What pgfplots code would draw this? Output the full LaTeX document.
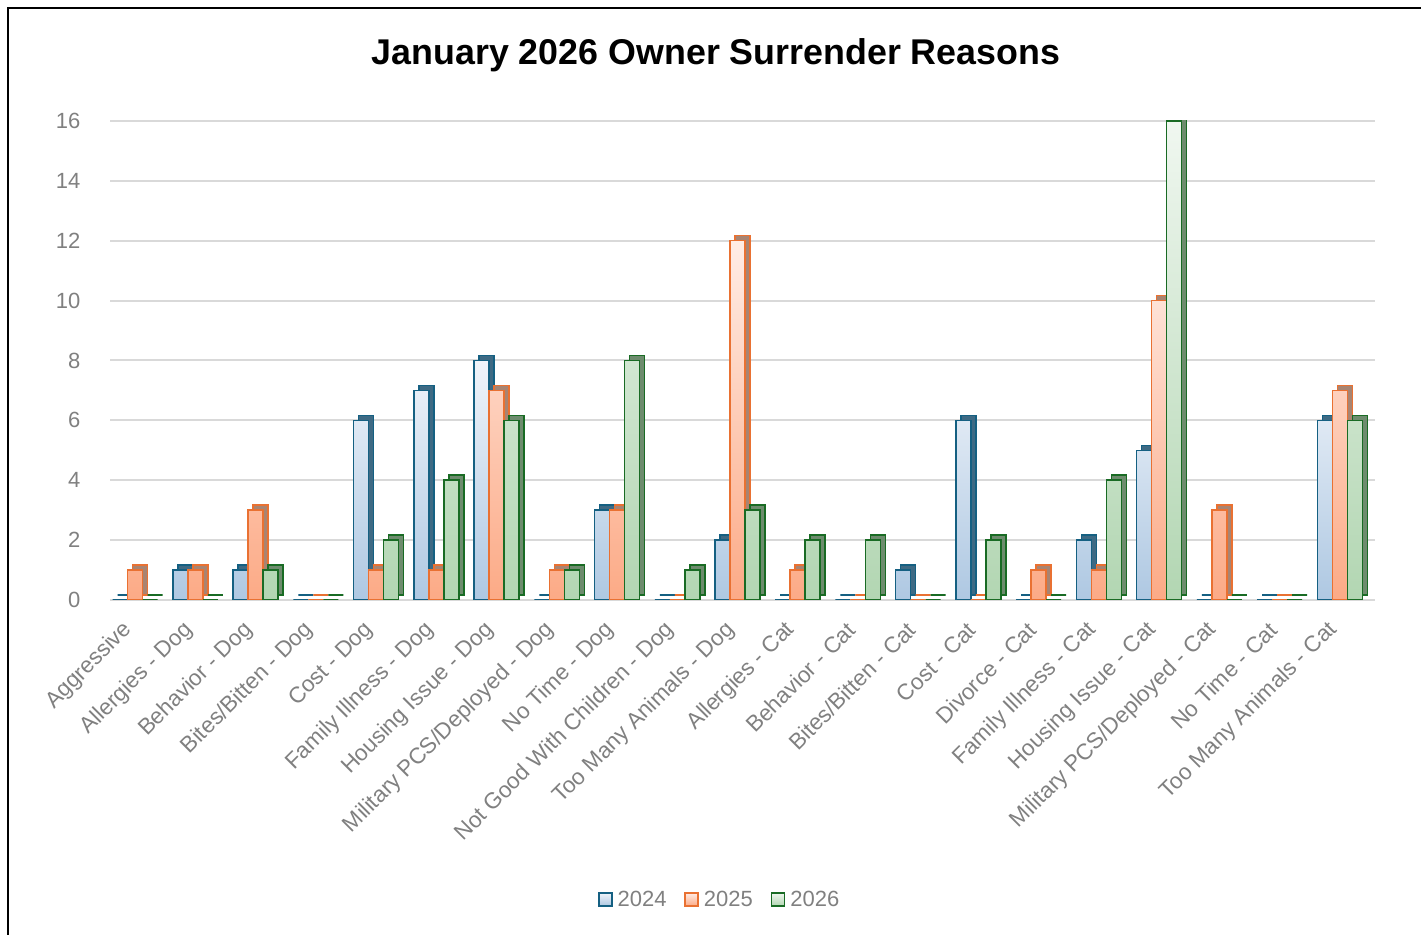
\documentclass[border=0pt]{standalone}
\usepackage{pgfplots}
\pgfplotsset{compat=1.18}
\usepackage{pgfplotstable}
\usepackage{fontspec}
\setmainfont{Liberation Sans}

\definecolor{c24}{HTML}{156082}
\definecolor{c25}{HTML}{E97132}
\definecolor{c26}{HTML}{196B24}
\definecolor{c24top}{HTML}{F0F4FA}
\definecolor{c24bot}{HTML}{AEC8E2}
\definecolor{c25top}{HTML}{FFEDE6}
\definecolor{c25bot}{HTML}{FCAA86}
\definecolor{c26top}{HTML}{F0F7F0}
\definecolor{c26bot}{HTML}{B2D6B2}
\definecolor{s24}{HTML}{3E6A84}
\definecolor{s25}{HTML}{A88472}
\definecolor{s26}{HTML}{6E8C6E}
\definecolor{txtgray}{HTML}{808080}
\definecolor{gridgray}{HTML}{D9D9D9}

% idx: category index, one column per year
\pgfplotstableread{
idx y24 y25 y26
0  0 1 0
1  1 1 0
2  1 3 1
3  0 0 0
4  6 1 2
5  7 1 4
6  8 7 6
7  0 1 1
8  3 3 8
9  0 0 1
10 2 12 3
11 0 1 2
12 0 0 2
13 1 0 0
14 6 0 2
15 0 1 0
16 2 1 4
17 5 10 16
18 0 3 0
19 0 0 0
20 6 7 6
}\surrender

\begin{document}
\begin{tikzpicture}[x=1pt,y=1pt]
\path[use as bounding box] (0,0) rectangle (1421,934);
\draw[line width=2pt] (8,-2) -- (8,926) -- (1425,926);
\node[font=\bfseries\fontsize{35.8}{40}\selectfont] at (716,879) {January 2026 Owner Surrender Reasons};
\begin{axis}[
  at={(110pt,334pt)}, anchor=south west,
  width=1265pt, height=479pt, scale only axis,
  xmin=-0.5, xmax=20.5, ymin=0, ymax=16,
  ybar, bar width=15pt,
  axis line style={draw=none},
  major tick length=0pt,
  ytick={0,2,...,16},
  ymajorgrids, grid style={line width=2pt, gridgray},
  xtick={0,...,20},
  xticklabels={Aggressive, Allergies - Dog, Behavior - Dog, Bites/Bitten - Dog, Cost - Dog,
    Family Illness - Dog, Housing Issue - Dog, Military PCS/Deployed - Dog, No Time - Dog,
    Not Good With Children - Dog, Too Many Animals - Dog, Allergies - Cat, Behavior - Cat,
    Bites/Bitten - Cat, Cost - Cat, Divorce - Cat, Family Illness - Cat, Housing Issue - Cat,
    Military PCS/Deployed - Cat, No Time - Cat, Too Many Animals - Cat},
  x tick label style={xshift=-9pt, yshift=-24pt, rotate=45, anchor=east,
    font=\fontsize{22.5}{26}\selectfont, text=txtgray},
  y tick label style={font=\fontsize{22}{26}\selectfont, text=txtgray, xshift=-26pt},
  /pgf/number format/assume math mode=true,
  legend columns=3,
  legend style={at={(0.482,-0.626)}, anchor=center, draw=none, fill=none,
    font=\fontsize{22}{26}\selectfont, text=txtgray,
    /tikz/every odd column/.append style={column sep=3pt},
    /tikz/every even column/.append style={column sep=16pt}},
  legend image code/.code={\draw[#1, line width=1.5pt] (0pt,-6pt) rectangle (13pt,7pt);},
]
% depth (side and top faces)
\addplot[forget plot, bar shift=-20pt, xshift=5pt, yshift=5pt, fill=s24, draw=c24, line width=1.5pt] table[x=idx,y=y24] {\surrender};
\addplot[forget plot, bar shift=-5pt, xshift=5pt, yshift=5pt, fill=s25, draw=c25, line width=1.5pt] table[x=idx,y=y25] {\surrender};
\addplot[forget plot, bar shift=10pt, xshift=5pt, yshift=5pt, fill=s26, draw=c26, line width=1.5pt] table[x=idx,y=y26] {\surrender};
% front faces
\addplot[bar shift=-20pt, draw=c24, top color=c24top, bottom color=c24bot, line width=1.5pt] table[x=idx,y=y24] {\surrender};
\addplot[bar shift=-5pt, draw=c25, top color=c25top, bottom color=c25bot, line width=1.5pt] table[x=idx,y=y25] {\surrender};
\addplot[bar shift=10pt, draw=c26, top color=c26top, bottom color=c26bot, line width=1.5pt] table[x=idx,y=y26] {\surrender};
\legend{2024,2025,2026}
\end{axis}
\end{tikzpicture}
\end{document}
